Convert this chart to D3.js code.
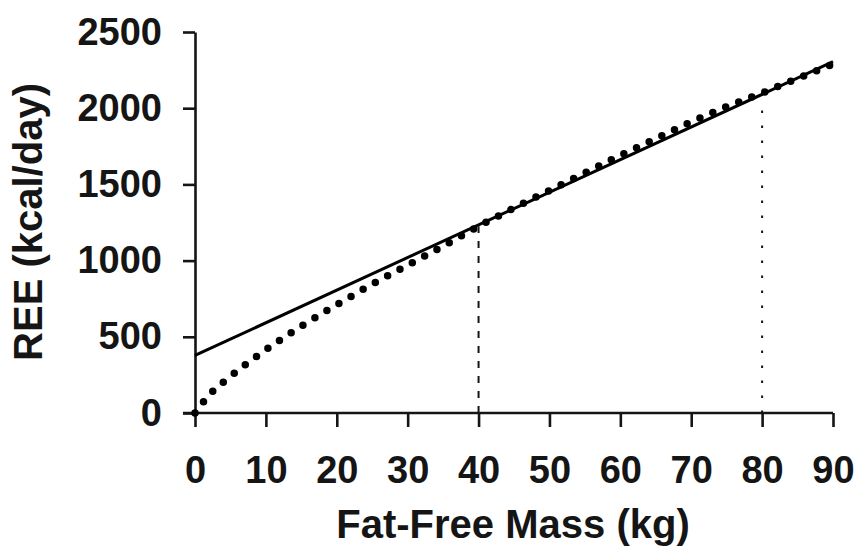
<!DOCTYPE html>
<head>
    <script src="https://d3js.org/d3.v7.min.js"></script>
    <style>
body {
  margin: 0;
  background: #fff;
  font-family: "Liberation Sans", Arial, sans-serif;
}
</style>
</head>
<body>
    <svg></svg>
</body>

<script>
    // fat-free mass (kg) vs REE (kcal/day)
    var xTicks = [0, 10, 20, 30, 40, 50, 60, 70, 80, 90];
    var yTicks = [0, 500, 1000, 1500, 2000, 2500];

    // straight (linear) equation: end points
    var linearFFM = [0, 90];
    var linearREE = [378, 2305];

    // dotted curve
    var curveFFM = [0, 2, 5, 10, 15, 20, 25, 30, 35, 40, 45, 50, 55, 60, 65, 70, 75, 80, 85, 90];
    var curveREE = [0, 118, 240, 415, 570, 710, 845, 970, 1095, 1225, 1345, 1460, 1575, 1690, 1800, 1910, 2010, 2100, 2195, 2290];

    // drop lines
    var dropFFM = [40, 80];
    var dropREE = [1225, 2010];

    var width = 856;
    var height = 552;
    var ink = "#151515";

    var svg = d3.select('svg')
        .attr('width', width)
        .attr('height', height);

    var x = d3.scaleLinear().domain([0, 90]).range([195, 833]);
    var y = d3.scaleLinear().domain([0, 2500]).range([413, 32]);

    // axes
    var yAxis = svg.append('g')
        .attr('transform', 'translate(' + x(0) + ',0)')
        .call(d3.axisLeft(y).tickValues(yTicks).tickFormat(d3.format('d'))
            .tickSize(12).tickPadding(21).tickSizeOuter(0));

    var xAxis = svg.append('g')
        .attr('transform', 'translate(0,' + y(0) + ')')
        .call(d3.axisBottom(x).tickValues(xTicks).tickFormat(d3.format('d'))
            .tickSize(14).tickPadding(29).tickSizeOuter(0));

    [xAxis, yAxis].forEach(function (a) {
        a.select('.domain').attr('stroke', ink).attr('stroke-width', 2.6);
        a.selectAll('.tick line').attr('stroke', ink).attr('stroke-width', 2.6);
        a.selectAll('.tick text')
            .attr('fill', ink)
            .style('font-size', '38px')
            .style('font-weight', 'bold');
    });
    // x axis runs a little past the y axis on the left
    xAxis.select('.domain').attr('d', 'M' + (x(0) - 12) + ',0H' + x(90));

    // drop lines
    var dashes = ['7,8', '2.5,12.5'];
    svg.selectAll('.drop')
        .data(dropFFM)
        .enter().append('line')
        .attr('class', 'drop')
        .attr('x1', function (d) { return x(d); })
        .attr('x2', function (d) { return x(d); })
        .attr('y1', y(0))
        .attr('y2', function (d, i) { return y(dropREE[i]); })
        .attr('stroke', ink)
        .attr('stroke-width', 2)
        .attr('stroke-dasharray', function (d, i) { return dashes[i]; });

    // solid line
    var line = d3.line()
        .x(function (d) { return x(d[0]); })
        .y(function (d) { return y(d[1]); });

    svg.append('path')
        .datum(d3.zip(linearFFM, linearREE))
        .attr('d', line)
        .attr('fill', 'none')
        .attr('stroke', '#000')
        .attr('stroke-width', 3);

    // dotted curve
    svg.append('path')
        .datum(d3.zip(curveFFM, curveREE))
        .attr('d', line.curve(d3.curveMonotoneX))
        .attr('fill', 'none')
        .attr('stroke', '#000')
        .attr('stroke-width', 7.5)
        .attr('stroke-linecap', 'round')
        .attr('stroke-dasharray', '0,14');

    // axis titles
    svg.append('text')
        .attr('x', (x(0) + x(90)) / 2 - 1)
        .attr('y', 538)
        .attr('text-anchor', 'middle')
        .attr('fill', ink)
        .style('font-size', '40px')
        .style('font-weight', 'bold')
        .text('Fat-Free Mass (kg)');

    svg.append('text')
        .attr('transform', 'translate(42,222)rotate(-90)')
        .attr('text-anchor', 'middle')
        .attr('fill', ink)
        .style('font-size', '40px')
        .style('font-weight', 'bold')
        .text('REE (kcal/day)');
</script>
